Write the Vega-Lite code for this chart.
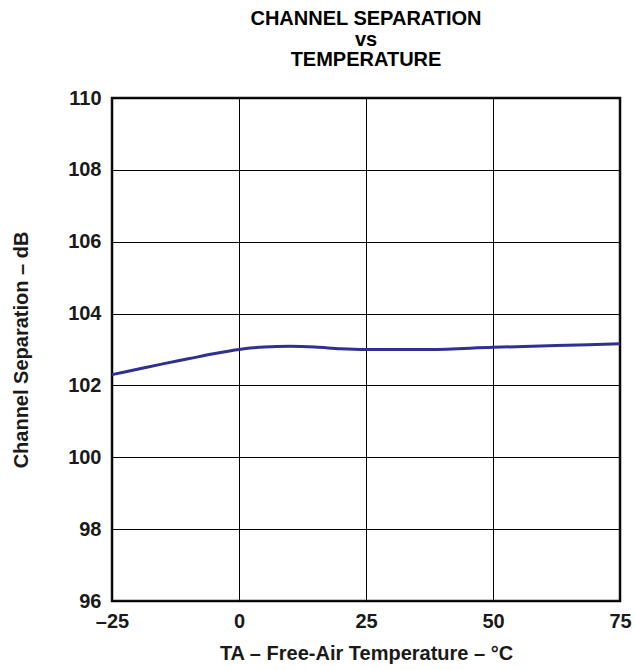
{
  "$schema": "https://vega.github.io/schema/vega-lite/v6.json",
  "autosize": "none",
  "width": 508,
  "height": 503,
  "padding": {"left": 112, "top": 98, "right": 15, "bottom": 69},
  "background": "white",
  "title": {
    "text": ["CHANNEL SEPARATION", "vs", "TEMPERATURE"],
    "font": "Liberation Sans",
    "fontSize": 20,
    "fontWeight": "bold",
    "lineHeight": 20.5,
    "color": "black",
    "anchor": "middle",
    "offset": 18
  },
  "config": {
    "view": {"stroke": "#111", "strokeWidth": 2.5},
    "axis": {
      "labelFont": "Liberation Sans",
      "labelFontSize": 20,
      "labelFontWeight": "bold",
      "labelColor": "#1a1a1a",
      "titleFont": "Liberation Sans",
      "titleFontSize": 20,
      "titleFontWeight": "bold",
      "titleColor": "#1a1a1a",
      "grid": true,
      "gridColor": "black",
      "gridWidth": 1,
      "gridOpacity": 1,
      "domain": false,
      "ticks": false
    }
  },
  "data": {
    "values": [
      {"t": -25, "cs": 102.3},
      {"t": -20, "cs": 102.45},
      {"t": -15, "cs": 102.6},
      {"t": -10, "cs": 102.74},
      {"t": -5, "cs": 102.88},
      {"t": 0, "cs": 103.0},
      {"t": 5, "cs": 103.07},
      {"t": 10, "cs": 103.09},
      {"t": 15, "cs": 103.07},
      {"t": 20, "cs": 103.02},
      {"t": 25, "cs": 103.0},
      {"t": 37.5, "cs": 103.0},
      {"t": 50, "cs": 103.06},
      {"t": 62.5, "cs": 103.11},
      {"t": 75, "cs": 103.16}
    ]
  },
  "mark": {"type": "line", "color": "#2E3192", "strokeWidth": 3, "interpolate": "monotone"},
  "encoding": {
    "x": {
      "field": "t",
      "type": "quantitative",
      "scale": {"domain": [-25, 75], "nice": false, "zero": false},
      "axis": {
        "values": [-25, 0, 25, 50, 75],
        "labelExpr": "replace(datum.label, /[-−]/, '–')",
        "labelFlush": false,
        "labelPadding": 10,
        "title": "TA – Free-Air Temperature – °C",
        "titlePadding": 12
      }
    },
    "y": {
      "field": "cs",
      "type": "quantitative",
      "scale": {"domain": [96, 110], "nice": false, "zero": false},
      "axis": {
        "values": [96, 98, 100, 102, 104, 106, 108, 110],
        "labelPadding": 11,
        "title": "Channel Separation – dB",
        "titlePadding": 36
      }
    }
  }
}
